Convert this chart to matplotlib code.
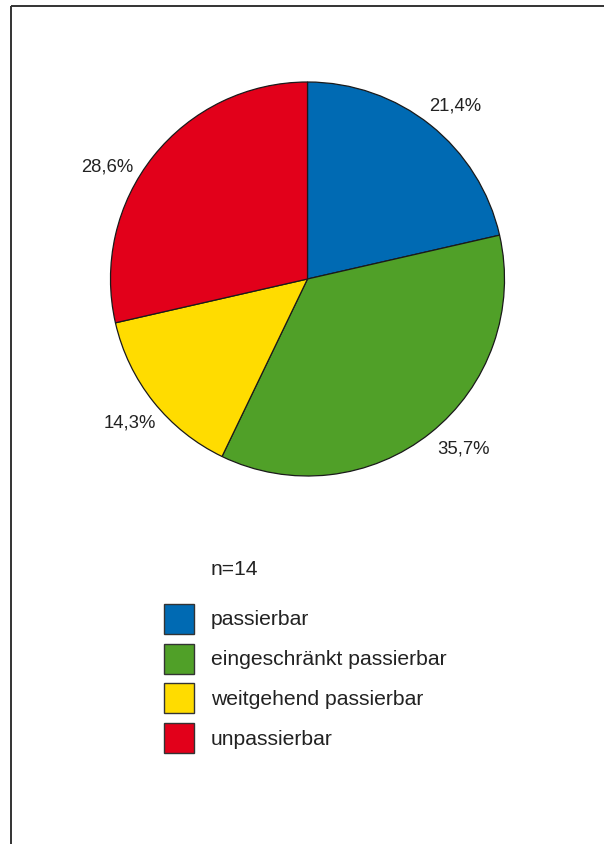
import matplotlib
matplotlib.use("Agg")
import matplotlib.pyplot as plt
from matplotlib.patches import Rectangle

plt.rcParams["font.family"] = ["Liberation Sans", "DejaVu Sans"]

# Durchgängigkeit der Bauwerke (Anzahl je Klasse)
categories = ["passierbar", "eingeschränkt passierbar",
              "weitgehend passierbar", "unpassierbar"]
counts = [3, 5, 2, 4]
colors = ["#006AB3", "#50A028", "#FFDC00", "#E2001A"]

W, H = 604, 845
n = sum(counts)
shares = [c / n * 100 for c in counts]
labels = [f"{s:.1f}%".replace(".", ",") for s in shares]

fig = plt.figure(figsize=(W / 100, H / 100), dpi=100)

# overlay in pixel coordinates for frame and legend
bg = fig.add_axes([0, 0, 1, 1])
bg.set_xlim(0, W)
bg.set_ylim(H, 0)
bg.axis("off")
bg.plot([10.5, W], [7, 7], color="#333333", lw=1.4, solid_capstyle="butt")
bg.plot([10.5, 10.5], [7, H], color="#333333", lw=1.4, solid_capstyle="butt")

# pie
cx, cy, r = 307.5, 280, 197
ax = fig.add_axes([(cx - r) / W, (H - cy - r) / H, 2 * r / W, 2 * r / H])
wedges, _ = ax.pie(counts, colors=colors, startangle=90, counterclock=False,
                   radius=1.0,
                   wedgeprops=dict(edgecolor="#1a1a1a", linewidth=0.9))
ax.set_xlim(-1, 1)
ax.set_ylim(-1, 1)
ax.set_aspect("equal")
ax.axis("off")

label_pos = [(455, 106), (463, 449), (130, 423), (107, 167)]
for lab, (x, y) in zip(labels, label_pos):
    bg.text(x, y, lab, ha="center", va="center", fontsize=13.3, color="#222222")

# legend
bg.text(211, 570, f"n={n}", ha="left", va="center", fontsize=15.2,
        color="#222222")
for i, (cat, col) in enumerate(zip(categories, colors)):
    top = 605 + i * 39.7
    bg.add_patch(Rectangle((164, top), 30, 30, facecolor=col,
                           edgecolor="#333333", linewidth=1.0))
    bg.text(211, top + 15, cat, ha="left", va="center", fontsize=15.2,
            color="#222222")

fig.savefig("out.png", dpi=100)
